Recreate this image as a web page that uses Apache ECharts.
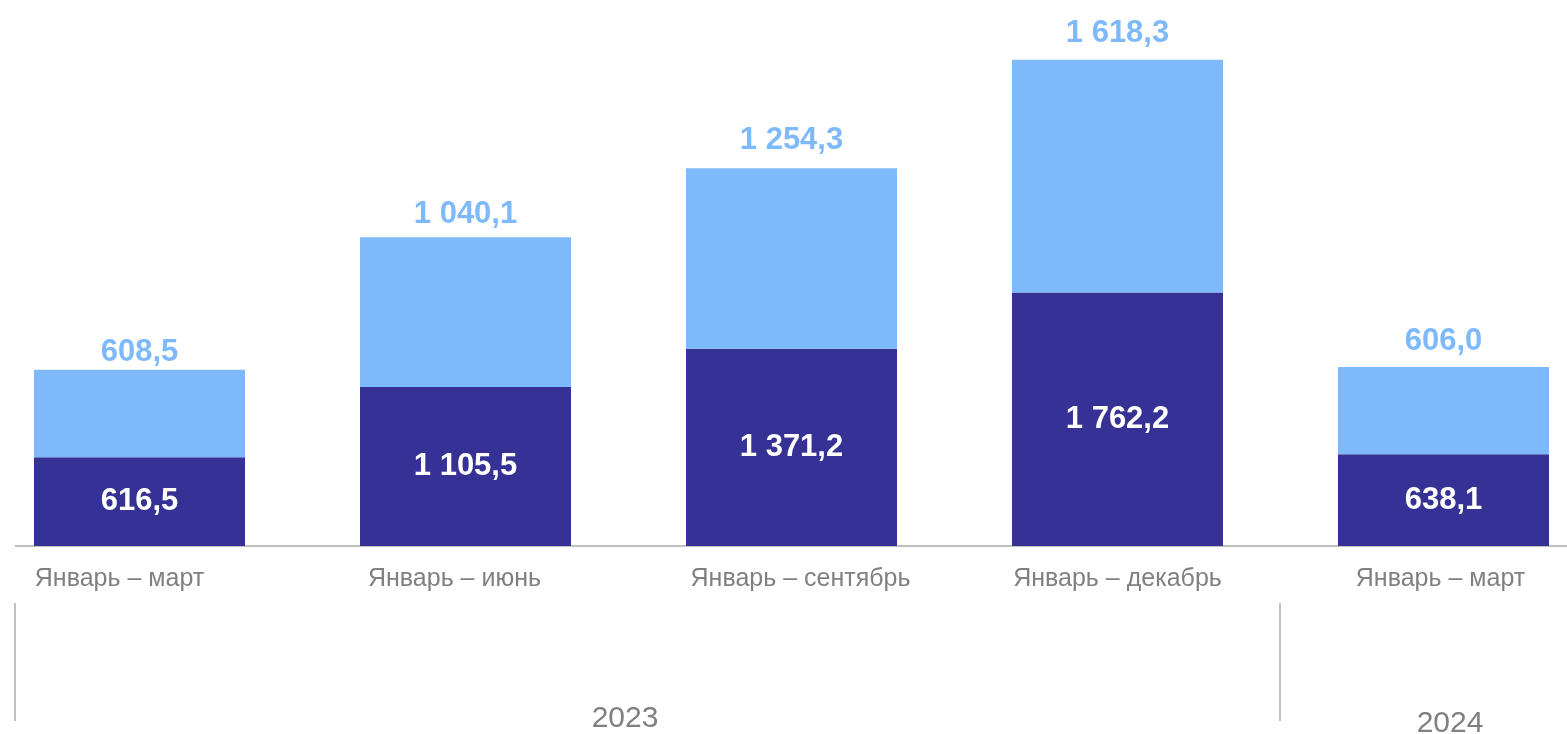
<!DOCTYPE html>
<html><head><meta charset="utf-8">
<script src="https://cdn.jsdelivr.net/npm/echarts@6/dist/echarts.min.js"></script>
<style>html,body{margin:0;padding:0;background:#fff}#c{width:1567px;height:734px}</style>
</head><body><div id="c"></div>
<script>
const categories = ['Январь – март','Январь – июнь','Январь – сентябрь','Январь – декабрь','Январь – март'];
const darkValues = [616.5, 1105.5, 1371.2, 1762.2, 638.1];
const lightValues = [608.5, 1040.1, 1254.3, 1618.3, 606.0];
const years = ['2023', '2024'];

const fmt = v => {
  const s = v.toFixed(1).replace('.', ',');
  const [i, d] = s.split(',');
  return i.replace(/\B(?=(\d{3})+(?!\d))/g, ' ') + ',' + d;
};
// styling only: horizontal nudges of category labels, gaps above the light bars
const labelShift = [-20, -11, 9, 0, -3];
const topLabelGap = [2, 7, 12, 11, 10];

const chart = echarts.init(document.getElementById('c'), null, {renderer: 'canvas'});
chart.setOption({
  animation: false,
  grid: {left: -23.5, right: -39.5, top: 0, bottom: 188, outerBoundsMode: 'none', containLabel: false},
  xAxis: {
    type: 'category',
    data: categories.map((c, i) => ({
      value: c,
      textStyle: {padding: labelShift[i] < 0 ? [0, -2 * labelShift[i], 0, 0] : [0, 0, 0, 2 * labelShift[i]]}
    })),
    axisLine: {show: false},
    axisTick: {show: false},
    axisLabel: {color: '#808080', fontSize: 25, fontFamily: 'Liberation Sans, Arial', margin: 21, interval: 0}
  },
  yAxis: {type: 'value', min: 0, max: 3795, show: false, splitLine: {show: false}},
  series: [
    {
      type: 'bar', stack: 's', data: darkValues, barWidth: 211,
      itemStyle: {color: '#363194'},
      label: {show: true, position: 'inside', formatter: p => fmt(p.value), color: '#fff',
        fontSize: 31, fontWeight: 'bold', fontFamily: 'Liberation Sans, Arial'}
    },
    {
      type: 'bar', stack: 's', barWidth: 211,
      data: lightValues.map((v, i) => ({value: v, label: {distance: topLabelGap[i]}})),
      itemStyle: {color: '#7EBAFB'},
      label: {show: true, position: 'top', formatter: p => fmt(p.value), color: '#7EBAFB',
        fontSize: 31, fontWeight: 'bold', fontFamily: 'Liberation Sans, Arial'}
    }
  ],
  graphic: [
    {type: 'line', shape: {x1: 15, y1: 546, x2: 1567, y2: 546}, style: {stroke: '#c0c0c0', lineWidth: 2}, z: 0},
    {type: 'line', shape: {x1: 15, y1: 603, x2: 15, y2: 721}, style: {stroke: '#c0c0c0', lineWidth: 2}},
    {type: 'line', shape: {x1: 1280, y1: 603, x2: 1280, y2: 721}, style: {stroke: '#c0c0c0', lineWidth: 2}},
    {type: 'text', x: 625, y: 719, style: {text: years[0], fill: '#808080', font: '30px "Liberation Sans", Arial', textAlign: 'center', textVerticalAlign: 'middle'}},
    {type: 'text', x: 1450, y: 724, style: {text: years[1], fill: '#808080', font: '30px "Liberation Sans", Arial', textAlign: 'center', textVerticalAlign: 'middle'}}
  ]
});
</script></body></html>
